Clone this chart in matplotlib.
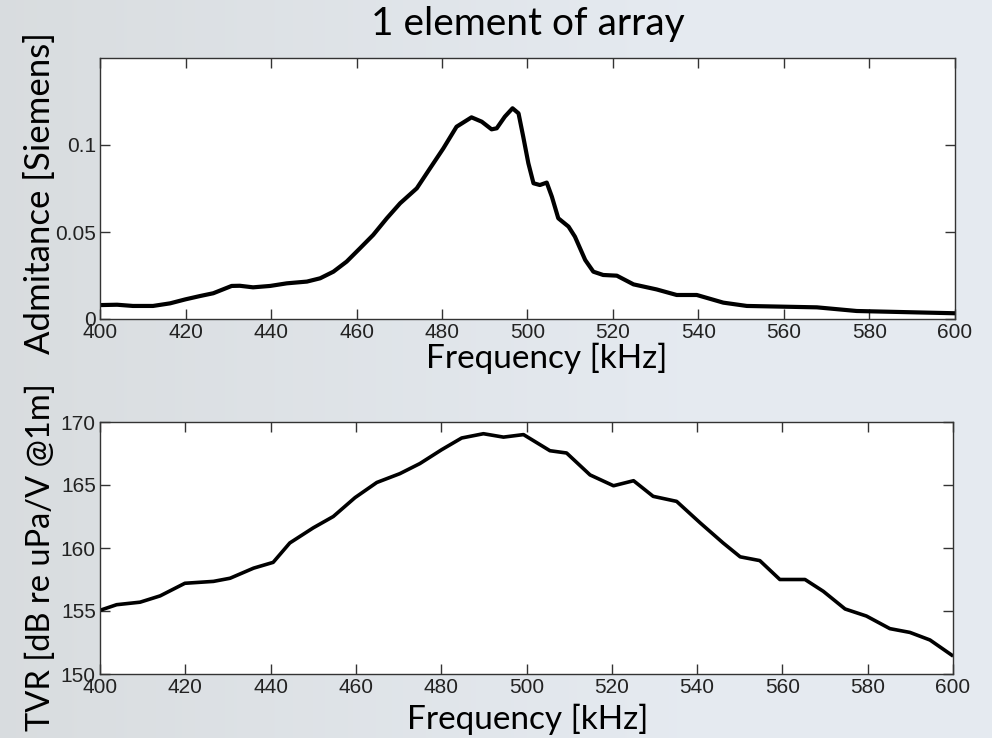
import numpy as np
import matplotlib
matplotlib.use("Agg")
import matplotlib.pyplot as plt

# ---- data ----
adm_freq = [400, 404, 407.7, 412.4, 416.4, 420, 423.4, 426.5, 430.8, 432.7, 435.8,
            439.8, 443.7, 448.4, 451.5, 454.6, 457.7, 460.8, 463.9, 467.1, 470.2,
            474.1, 477.2, 480.3, 483.4, 486.9, 489.3, 491.6, 492.8, 494.7, 496.5,
            497.9, 499.0, 500.2, 501.4, 502.9, 504.5, 505.7, 507.2, 509.6, 511.1,
            513.5, 515.4, 517.7, 520.9, 524.8, 530.2, 534.9, 539.6, 545.8, 551.3,
            567.7, 577.0, 591.0, 600]
adm_val = [0.0080, 0.0082, 0.0075, 0.0075, 0.0090, 0.0113, 0.0132, 0.0148, 0.0190,
           0.0191, 0.0182, 0.0190, 0.0205, 0.0215, 0.0234, 0.0272, 0.0330, 0.0406,
           0.0483, 0.0579, 0.0665, 0.0751, 0.0866, 0.0980, 0.1105, 0.1159, 0.1134,
           0.1090, 0.1096, 0.1163, 0.1211, 0.1182, 0.1048, 0.0895, 0.0780, 0.0770,
           0.0784, 0.0703, 0.0579, 0.0531, 0.0473, 0.0339, 0.0272, 0.0253, 0.0249,
           0.0199, 0.0170, 0.0138, 0.0138, 0.0094, 0.0075, 0.0067, 0.0046, 0.0038,
           0.0033]

tvr_freq = [400.4, 403.9, 409.4, 414.1, 419.9, 426.6, 430.5, 436.0, 440.6, 444.5,
            450.0, 454.7, 459.8, 464.9, 470.3, 475.0, 480.1, 484.8, 489.9, 494.6,
            499.3, 505.5, 509.4, 514.9, 520.4, 525.1, 529.7, 535.2, 540.7, 546.1,
            550.1, 554.7, 559.4, 565.3, 569.6, 574.7, 579.7, 585.2, 589.9, 594.6,
            599.7]
tvr_val = [155.1, 155.5, 155.7, 156.2, 157.2, 157.35, 157.6, 158.4, 158.86, 160.4,
           161.6, 162.5, 164.0, 165.2, 165.9, 166.7, 167.8, 168.73, 169.07, 168.8,
           169.0, 167.72, 167.54, 165.8, 164.94, 165.34, 164.1, 163.7, 162.0, 160.4,
           159.3, 159.0, 157.5, 157.5, 156.56, 155.16, 154.6, 153.6, 153.3, 152.7,
           151.5]

x_ticks = [400, 420, 440, 460, 480, 500, 520, 540, 560, 580, 600]
adm_ticks = [0, 0.05, 0.1]
adm_tick_labels = ["0", "0.05", "0.1"]
tvr_ticks = [150, 155, 160, 165, 170]

title_text = "1 element of array"
xlabel_text = "Frequency [kHz]"
adm_ylabel = "Admitance [Siemens]"
tvr_ylabel = "TVR [dB re uPa/V @1m]"

# ---- figure ----
W, H = 992, 738
fig = plt.figure(figsize=(W / 100, H / 100), dpi=100)
fig.patch.set_facecolor("#e3e7eb")

# soft background gradient
bg = fig.add_axes([0, 0, 1, 1], zorder=-10)
gx = np.linspace(0, 1, 200)
gy = np.linspace(0, 1, 150)
GX, GY = np.meshgrid(gx, gy)
c_left = np.array([0.85, 0.865, 0.875])
c_right = np.array([0.90, 0.92, 0.945])
t = np.clip(GX * 1.4, 0, 1)[..., None]
img = c_left * (1 - t) + c_right * t
bg.imshow(img, aspect="auto", extent=[0, 1, 0, 1], interpolation="bilinear")
bg.set_axis_off()

tick_family = ["Liberation Sans", "DejaVu Sans"]
tick_size = 15
label_family = ["Lato", "DejaVu Sans"]
tick_color = "#222222"


def style_axes(ax):
    ax.set_facecolor("white")
    for s in ax.spines.values():
        s.set_color("#333333")
        s.set_linewidth(1.0)
    ax.tick_params(direction="in", length=7, width=1.0, color="#333333",
                   top=True, right=True, labelcolor=tick_color, pad=3)
    for lab in ax.get_xticklabels() + ax.get_yticklabels():
        lab.set_fontfamily(tick_family)
        lab.set_fontsize(tick_size)


ax1 = fig.add_axes([100 / W, 1 - 319 / H, 855 / W, 261 / H])
ax1.plot(adm_freq, adm_val, color="black", lw=3.0, solid_joinstyle="round")
ax1.set_xlim(400, 600)
ax1.set_ylim(0, 0.15)
ax1.set_xticks(x_ticks)
ax1.set_yticks(adm_ticks)
ax1.set_yticklabels(adm_tick_labels)
style_axes(ax1)

ax2 = fig.add_axes([100 / W, 1 - 674 / H, 853 / W, 252 / H])
ax2.plot(tvr_freq, tvr_val, color="black", lw=2.6, solid_joinstyle="round")
ax2.set_xlim(400, 600)
ax2.set_ylim(150, 170)
ax2.set_xticks(x_ticks)
ax2.set_yticks(tvr_ticks)
style_axes(ax2)

# texts
fig.text(528 / W, 1 - 24 / H, title_text, ha="center", va="center",
         fontsize=28, family=label_family, color="black")
fig.text(547 / W, 1 - 358 / H, xlabel_text, ha="center", va="center",
         fontsize=24, family=label_family, color="black")
fig.text(528 / W, 1 - 719 / H, xlabel_text, ha="center", va="center",
         fontsize=24, family=label_family, color="black")
fig.text(40 / W, 1 - 193 / H, adm_ylabel, ha="center", va="center",
         rotation=90, fontsize=25, family=label_family, color="black")
fig.text(41 / W, 1 - 383 / H, tvr_ylabel, ha="center", va="top",
         rotation=90, fontsize=23.5, family=label_family, color="black")

fig.savefig("out.png", dpi=100, facecolor=fig.get_facecolor())
